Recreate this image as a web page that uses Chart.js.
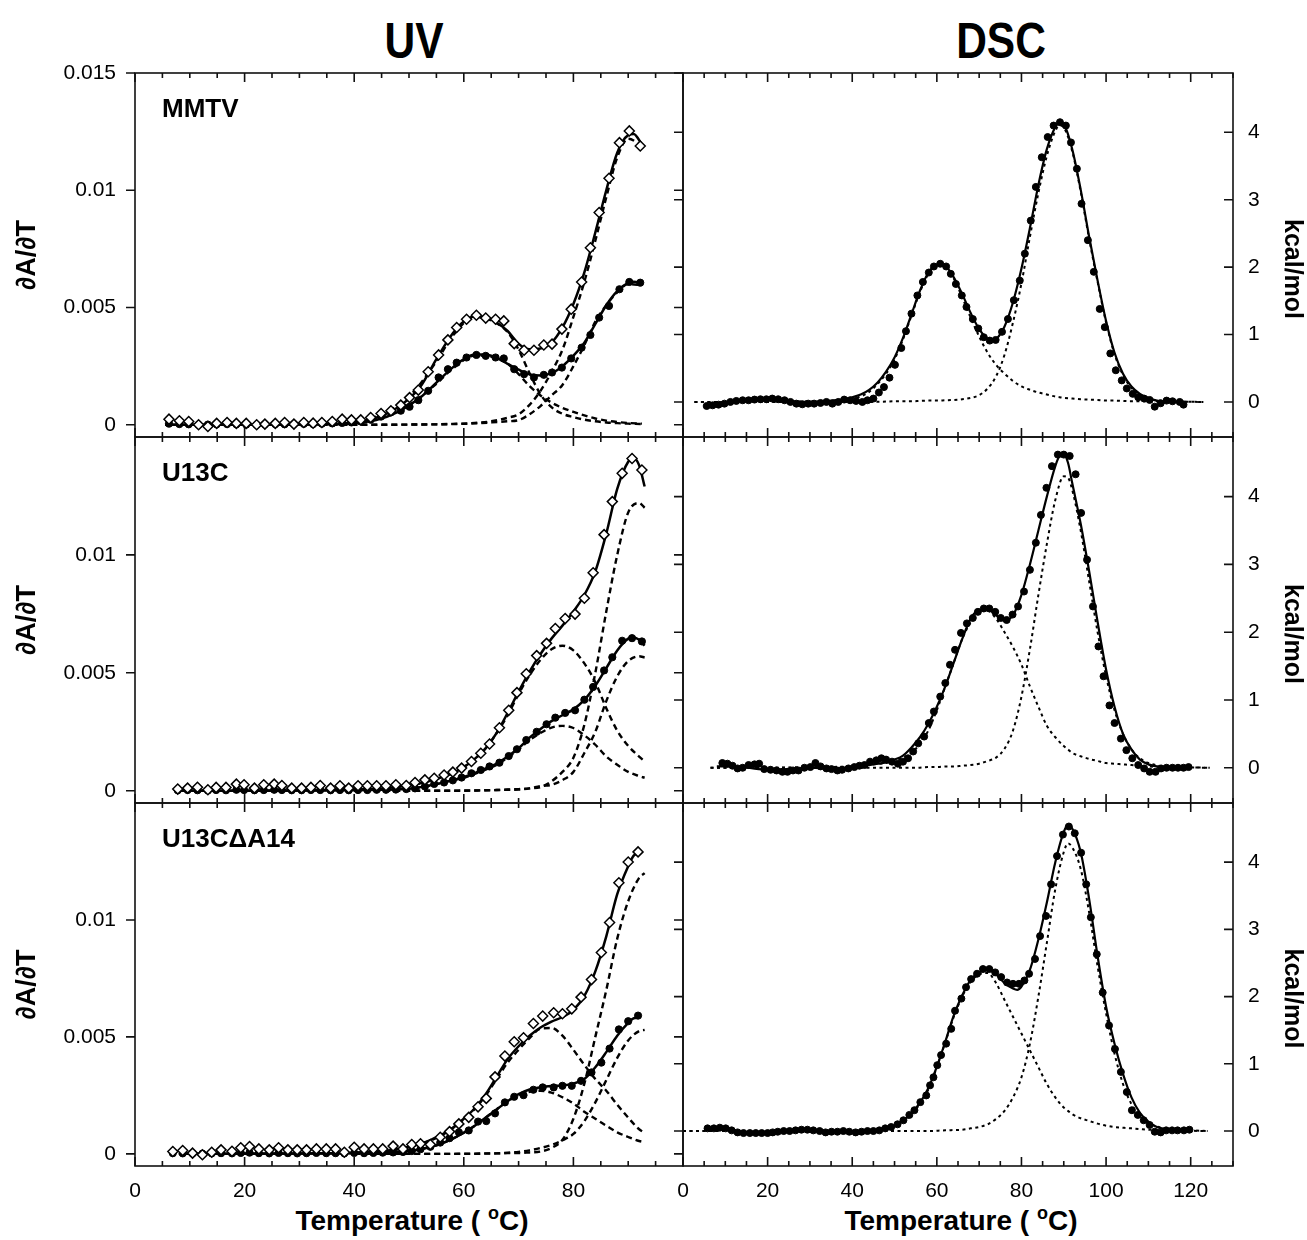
<!DOCTYPE html>
<html>
<head>
<meta charset="utf-8">
<script src="https://cdn.jsdelivr.net/npm/chart.js@4.4.1/dist/chart.umd.min.js"></script>
<style>
  body { margin: 0; background: #fff; }
  #fig { position: relative; width: 1307px; height: 1240px; overflow: hidden;
         font-family: "Liberation Sans", Arial, sans-serif; color: #000; }
  #fig canvas { position: absolute; }
  .head { position: absolute; top: 16px; font-weight: bold; font-size: 50px; line-height: 50px;
          white-space: nowrap; transform: translateX(-50%) scaleX(0.85); }
  .xtitle { position: absolute; top: 1199px; font-weight: bold; font-size: 28px; line-height: 28px;
            white-space: nowrap; transform: translateX(-50%); }
  .deg { font-size: 18px; vertical-align: 11px; }
</style>
</head>
<body>
<div id="fig">
  <div class="head" style="left:414px">UV</div>
  <div class="head" style="left:1001px">DSC</div>
  <div class="xtitle" style="left:412px">Temperature ( <span class="deg">o</span>C)</div>
  <div class="xtitle" style="left:961px">Temperature ( <span class="deg">o</span>C)</div>
</div>
<script>
"use strict";

// ---- axes ----
// UV values are kept in units of 1e-3 (dA/dT); DSC values in kcal/mol
const uvYTicks = [0, 5, 10, 15];
const uvYTickText = ["0", "0.005", "0.01", "0.015"];
const dscYTicks = [0, 1, 2, 3, 4];
const dscYTickText = ["0", "1", "2", "3", "4"];
const uvXTicks = [0, 20, 40, 60, 80];
const dscXTicks = [0, 20, 40, 60, 80, 100, 120];
const panelNames = ["MMTV", "U13C", "U13C\u0394A14"];

// ---- MMTV, UV ----
const mmtvUvT = [6.2, 8.1, 9.8, 11.6, 13.3, 14.9, 16.8, 18.5, 20.3, 22.2, 23.7, 25.6, 27.3, 29.0, 30.8, 32.5, 34.1, 36.0, 37.8, 39.5,
  41.2, 43.0, 44.9, 46.7, 48.5, 50.1, 51.7, 53.5, 55.4, 57.1, 58.7, 60.5, 62.3, 64.0, 65.8, 67.3, 69.2, 71.0, 72.8, 74.6,
  76.1, 77.9, 79.6, 81.5, 83.1, 84.7, 86.5, 88.4, 90.2, 92.2];
const mmtvUvOpen = [0.24, 0.17, 0.14, 0.0, -0.07, 0.06, 0.1, 0.06, 0.06, 0.0, 0.03, 0.06, 0.1, 0.03, 0.1, 0.07, 0.1, 0.14, 0.24, 0.21,
  0.21, 0.31, 0.48, 0.6, 0.84, 1.16, 1.48, 2.26, 2.98, 3.62, 4.15, 4.5, 4.67, 4.55, 4.5, 4.43, 3.46, 3.18, 3.18, 3.4,
  3.44, 4.08, 4.93, 6.09, 7.55, 9.05, 10.51, 12.03, 12.53, 11.89];
const mmtvUvFilled = [0.05, 0.03, 0.02, 0.0, 0.01, 0.02, 0.03, 0.02, 0.01, 0.0, 0.02, 0.03, 0.02, 0.03, 0.04, 0.03, 0.05, 0.06, 0.08, 0.1,
  0.14, 0.22, 0.35, 0.53, 0.6, 0.77, 1.05, 1.45, 2.02, 2.37, 2.65, 2.87, 2.98, 2.94, 2.87, 2.83, 2.37, 2.16, 2.02, 2.13,
  2.23, 2.44, 2.83, 3.29, 3.83, 4.57, 5.07, 5.78, 6.09, 6.06];
const mmtvUvFitT = [5.5, 10, 15, 20, 25, 30, 35, 40, 44, 48, 52, 55, 58, 60, 62, 64, 66, 68, 70, 72, 74, 76, 78, 80, 82, 84, 86, 88, 90, 91, 92.5];
const mmtvUvFitOpen = [0, 0, 0, 0, 0, 0.01, 0.03, 0.1, 0.3, 0.75, 1.6, 2.8, 3.9, 4.4, 4.62, 4.58, 4.35, 4.0, 3.45, 3.22,
  3.25, 3.5, 4.15, 5.15, 6.5, 8.2, 10.0, 11.6, 12.35, 12.4, 11.95];
const mmtvUvFitFilled = [0, 0, 0, 0, 0, 0.01, 0.02, 0.07, 0.2, 0.55, 1.15, 1.8, 2.45, 2.8, 3.0, 3.0, 2.85, 2.6, 2.35, 2.15,
  2.1, 2.2, 2.5, 2.95, 3.5, 4.3, 5.1, 5.7, 6.05, 6.1, 6.0];
const mmtvUvCompT = [34, 40, 45, 50, 55, 58, 62, 65, 68, 70, 72, 74, 76, 78, 80, 82, 84, 86, 88, 90, 92.5];
const mmtvUvOpenLow = [0.03, 0.1, 0.45, 1.2, 2.7, 3.8, 4.6, 4.45, 3.95, 3.2, 2.2, 1.3, 0.75, 0.47, 0.33, 0.22, 0.15, 0.1, 0.07, 0.05, 0.03];
const mmtvUvOpenHigh = [0, 0, 0, 0.01, 0.02, 0.04, 0.08, 0.15, 0.3, 0.45, 0.85, 1.45, 2.25, 3.2, 4.6, 6.1, 7.85, 9.7, 11.4, 12.2, 11.9];
const mmtvUvFilledLow = [0.02, 0.05, 0.3, 0.85, 1.75, 2.4, 2.95, 2.9, 2.6, 2.16, 1.65, 1.25, 0.95, 0.72, 0.55, 0.4, 0.27, 0.18, 0.12, 0.08, 0.05];
const mmtvUvFilledHigh = [0, 0, 0, 0.01, 0.02, 0.03, 0.06, 0.1, 0.15, 0.2, 0.45, 0.8, 1.25, 1.7, 2.5, 3.4, 4.4, 5.1, 5.65, 6.0, 5.95];

// ---- U13C, UV ----
const u13cUvT = [7.8, 9.6, 11.4, 13.3, 14.8, 16.6, 18.5, 19.9, 21.8, 23.5, 25.4, 26.8, 28.6, 30.4, 32.1, 33.8, 35.7, 37.4, 39.0, 40.7,
  42.4, 44.1, 45.8, 47.6, 49.5, 51.1, 52.9, 54.6, 56.4, 58.0, 59.6, 61.4, 63.1, 64.7, 66.5, 68.2, 69.7, 71.4, 73.3, 75.1,
  76.7, 78.5, 80.3, 82.0, 83.6, 85.6, 87.1, 88.9, 90.7, 92.5];
const u13cUvOpen = [0.07, 0.11, 0.15, 0.04, 0.14, 0.14, 0.28, 0.25, 0.11, 0.25, 0.28, 0.22, 0.11, 0.11, 0.14, 0.22, 0.11, 0.21, 0.11, 0.21,
  0.21, 0.21, 0.21, 0.25, 0.22, 0.35, 0.46, 0.53, 0.67, 0.79, 0.96, 1.24, 1.59, 1.98, 2.67, 3.41, 4.16, 4.96, 5.73, 6.25,
  6.88, 7.3, 7.49, 8.16, 9.24, 10.86, 12.26, 13.46, 14.09, 13.6];
const u13cUvFilled = [0.02, 0.03, 0.02, 0.01, 0.03, 0.02, 0.04, 0.03, 0.02, 0.03, 0.04, 0.03, 0.02, 0.02, 0.03, 0.03, 0.02, 0.03, 0.02, 0.03,
  0.03, 0.04, 0.04, 0.05, 0.07, 0.1, 0.18, 0.29, 0.35, 0.44, 0.56, 0.74, 0.88, 1.03, 1.19, 1.47, 1.76, 2.15, 2.5, 2.82,
  3.1, 3.3, 3.41, 3.86, 4.4, 5.1, 5.66, 6.36, 6.47, 6.33];
const u13cUvFitT = [7.5, 15, 25, 35, 45, 50, 55, 58, 60, 62, 64, 66, 68, 70, 72, 74, 76, 78, 80, 82, 84, 86, 88, 90, 91, 92, 93];
const u13cUvFitOpen = [0.0, 0.0, 0.01, 0.03, 0.1, 0.22, 0.5, 0.75, 1.0, 1.35, 1.8, 2.45, 3.3, 4.2, 5.05, 5.8, 6.45, 7.0, 7.6, 8.3,
  9.3, 10.9, 12.8, 13.95, 14.1, 13.8, 12.9];
const u13cUvFitFilled = [0.0, 0.0, 0.0, 0.01, 0.04, 0.08, 0.28, 0.45, 0.58, 0.75, 0.95, 1.15, 1.45, 1.8, 2.25, 2.62, 2.95, 3.2, 3.45, 3.85,
  4.45, 5.2, 5.95, 6.45, 6.5, 6.4, 6.15];
const u13cUvCompT = [40, 45, 50, 55, 58, 60, 62, 64, 66, 68, 70, 72, 74, 76, 78, 80, 82, 84, 86, 88, 90, 92, 93];
const u13cUvOpenLow = [0.05, 0.1, 0.22, 0.5, 0.75, 1.0, 1.35, 1.8, 2.45, 3.2, 4.1, 4.9, 5.55, 6.0, 6.15, 5.95, 5.4, 4.6, 3.5, 2.55, 1.9, 1.45, 1.25];
const u13cUvOpenHigh = [0, 0, 0, 0, 0, 0.01, 0.01, 0.02, 0.03, 0.05, 0.07, 0.1, 0.15, 0.4, 0.8, 1.4, 2.8, 5.0, 7.6, 10.0, 11.8, 12.2, 12.0];
const u13cUvFilledLow = [0.02, 0.05, 0.08, 0.28, 0.45, 0.55, 0.72, 0.9, 1.1, 1.4, 1.75, 2.15, 2.45, 2.68, 2.75, 2.66, 2.35, 1.95, 1.45, 1.1, 0.8, 0.62, 0.55];
const u13cUvFilledHigh = [0, 0, 0, 0, 0, 0, 0.01, 0.02, 0.03, 0.04, 0.05, 0.1, 0.2, 0.25, 0.45, 0.8, 1.6, 2.5, 3.8, 4.85, 5.5, 5.7, 5.65];

// ---- U13CdA14, UV ----
const u13cdUvT = [6.9, 8.7, 10.5, 12.3, 14.0, 15.7, 17.7, 19.3, 20.9, 22.6, 24.5, 26.2, 27.9, 29.6, 31.3, 33.1, 34.9, 36.6, 38.2, 40.0,
  41.8, 43.5, 45.2, 47.1, 48.9, 50.5, 52.1, 53.9, 55.7, 57.4, 59.1, 60.9, 62.6, 64.1, 65.7, 67.5, 69.2, 70.9, 72.7, 74.4,
  76.4, 78.0, 79.7, 81.4, 83.3, 85.1, 86.6, 88.3, 90.0, 91.8];
const u13cdUvOpen = [0.1, 0.14, 0.03, -0.04, 0.07, 0.17, 0.11, 0.26, 0.31, 0.21, 0.17, 0.26, 0.17, 0.17, 0.17, 0.21, 0.21, 0.21, 0.07, 0.28,
  0.21, 0.21, 0.21, 0.33, 0.21, 0.4, 0.43, 0.4, 0.71, 0.95, 1.28, 1.56, 2.01, 2.37, 3.29, 4.18, 4.79, 4.96, 5.57, 5.89,
  6.03, 5.99, 6.2, 6.7, 7.45, 8.61, 9.89, 11.59, 12.48, 12.91];
const u13cdUvFilled = [0.03, 0.02, 0.02, 0.01, 0.02, 0.03, 0.02, 0.04, 0.05, 0.03, 0.02, 0.04, 0.03, 0.02, 0.03, 0.04, 0.03, 0.03, 0.02, 0.04,
  0.03, 0.04, 0.05, 0.06, 0.08, 0.12, 0.2, 0.3, 0.48, 0.67, 0.92, 1.0, 1.38, 1.4, 1.73, 2.2, 2.44, 2.51, 2.74, 2.84,
  2.84, 2.91, 2.91, 3.12, 3.48, 3.9, 4.5, 5.32, 5.67, 5.91];
const u13cdUvFitT = [8, 25, 35, 40, 45, 48, 50, 52, 54, 56, 58, 60, 62, 64, 66, 68, 70, 72, 74, 76, 78, 80, 82, 84, 86, 88, 90, 91, 92];
const u13cdUvFitOpen = [0.0, 0.01, 0.02, 0.05, 0.12, 0.2, 0.3, 0.42, 0.6, 0.82, 1.12, 1.5, 1.95, 2.55, 3.3, 4.05, 4.6, 5.05, 5.4, 5.65,
  5.85, 6.15, 6.75, 7.8, 9.3, 11.1, 12.3, 12.75, 12.85];
const u13cdUvFitFilled = [0.0, 0.0, 0.01, 0.02, 0.05, 0.08, 0.12, 0.2, 0.3, 0.45, 0.65, 0.9, 1.2, 1.55, 1.9, 2.25, 2.55, 2.75, 2.85, 2.9,
  2.92, 3.0, 3.2, 3.7, 4.35, 5.05, 5.6, 5.8, 5.82];
const u13cdUvCompT = [40, 45, 50, 54, 56, 58, 60, 62, 64, 66, 68, 70, 72, 74, 76, 78, 80, 82, 84, 86, 88, 90, 92, 93];
const u13cdUvOpenLow = [0.05, 0.1, 0.3, 0.58, 0.8, 1.1, 1.48, 1.92, 2.5, 3.2, 3.9, 4.45, 4.95, 5.35, 5.38, 5.05, 4.45, 3.8, 3.2, 2.7, 2.1, 1.55, 1.05, 0.9];
const u13cdUvOpenHigh = [0, 0, 0, 0, 0, 0, 0.01, 0.01, 0.02, 0.02, 0.03, 0.03, 0.06, 0.1, 0.25, 0.6, 1.5, 3.0, 5.0, 7.0, 9.2, 10.8, 11.8, 12.0];
const u13cdUvFilledLow = [0.02, 0.05, 0.12, 0.3, 0.45, 0.65, 0.9, 1.2, 1.55, 1.9, 2.25, 2.5, 2.65, 2.7, 2.62, 2.42, 2.15, 1.8, 1.5, 1.2, 0.92, 0.72, 0.55, 0.5];
const u13cdUvFilledHigh = [0, 0, 0, 0, 0, 0, 0, 0, 0.01, 0.02, 0.05, 0.08, 0.15, 0.25, 0.38, 0.58, 0.85, 1.4, 2.2, 3.15, 4.1, 4.85, 5.25, 5.3];

// ---- MMTV, DSC ----
const mmtvDscT = [5.6, 7, 8.4, 9.8, 11.2, 12.6, 14.1, 15.5, 16.9, 18.3, 19.7, 21.1, 22.5, 24, 25.4, 26.8, 28.2, 29.6, 31, 32.5,
  33.9, 35.3, 36.7, 38.1, 39.5, 40.9, 42.4, 43.6, 45.0, 46.3, 47.5, 48.8, 50.1, 51.6, 52.7, 54.0, 55.4, 56.7, 58.1, 59.3,
  60.8, 62.2, 63.3, 64.5, 65.9, 67.0, 68.5, 69.8, 71.1, 72.5, 73.9, 75.4, 76.8, 78.2, 79.6, 80.8, 82.2, 83.4, 84.8, 86.2,
  87.6, 89.1, 90.5, 91.7, 93.1, 94.2, 95.7, 97.1, 98.5, 99.7, 101.0, 102.3, 103.7, 104.9, 106.3, 107.6, 109.0, 110.3, 111.5, 112.9,
  114.3, 115.7, 117.4, 118.3];
const mmtvDsc = [-0.06, -0.05, -0.04, -0.025, 0, 0.015, 0.025, 0.025, 0.035, 0.04, 0.04, 0.05, 0.04, 0.025, 0, -0.025, -0.035, -0.025, -0.025, -0.015,
  0, -0.025, 0, 0.035, 0.025, 0.015, 0, 0.025, 0.05, 0.14, 0.22, 0.36, 0.55, 0.8, 1.05, 1.31, 1.58, 1.78, 1.92, 2.01,
  2.05, 2.01, 1.9, 1.75, 1.58, 1.41, 1.23, 1.09, 0.96, 0.91, 0.92, 1.04, 1.23, 1.51, 1.8, 2.2, 2.69, 3.19, 3.63, 3.93,
  4.1, 4.15, 4.1, 3.85, 3.46, 2.94, 2.4, 1.93, 1.38, 1.11, 0.72, 0.47, 0.32, 0.2, 0.12, 0.07, 0.05, 0.03, -0.07, -0.02,
  0.02, 0.01, 0.0, -0.04];
const mmtvDscFitT = [5.5, 10, 15, 20, 25, 30, 35, 38, 40, 42, 44, 46, 48, 50, 52, 54, 56, 58, 60, 61, 62, 64, 66, 68, 70,
  72, 73, 74, 76, 78, 80, 82, 84, 86, 88, 89, 90, 92, 94, 96, 98, 100, 102, 104, 106, 108, 110, 112, 115, 119];
const mmtvDscFit = [-0.05, -0.02, 0.02, 0.03, 0.01, 0.0, 0.02, 0.04, 0.07, 0.11, 0.18, 0.29, 0.45, 0.66, 0.95, 1.3, 1.65, 1.92, 2.04, 2.05,
  2.02, 1.85, 1.6, 1.32, 1.08, 0.93, 0.9, 0.93, 1.12, 1.48, 1.98, 2.58, 3.22, 3.75, 4.08, 4.15, 4.12, 3.75, 3.15, 2.45,
  1.8, 1.2, 0.73, 0.42, 0.23, 0.12, 0.06, 0.02, 0.0, 0.0];
const mmtvDscCompT = [2.7, 10, 20, 30, 40, 44, 48, 50, 52, 54, 56, 58, 60, 62, 64, 66, 68, 70, 72, 74,
  76, 78, 80, 82, 84, 86, 88, 89, 90, 92, 94, 96, 98, 100, 102, 104, 106, 108, 110, 115, 123];
const mmtvDscLow = [0, 0, 0, 0.01, 0.05, 0.15, 0.42, 0.63, 0.93, 1.28, 1.63, 1.9, 2.02, 2.0, 1.83, 1.55, 1.25, 0.97, 0.73, 0.55,
  0.42, 0.31, 0.23, 0.18, 0.14, 0.11, 0.08, 0.07, 0.06, 0.05, 0.04, 0.035, 0.03, 0.02, 0.02, 0.015, 0.01, 0.01, 0.01, 0.005, 0];
const mmtvDscHigh = [0, 0, 0, 0, 0, 0, 0.005, 0.01, 0.01, 0.01, 0.015, 0.02, 0.02, 0.025, 0.03, 0.04, 0.06, 0.1, 0.2, 0.38,
  0.7, 1.18, 1.76, 2.45, 3.1, 3.65, 4.02, 4.1, 4.07, 3.72, 3.12, 2.42, 1.78, 1.18, 0.71, 0.4, 0.21, 0.11, 0.05, 0.01, 0];

// ---- U13C, DSC ----
const u13cDscT = [9.3, 10.5, 11.7, 12.9, 14.1, 15.5, 16.9, 18.0, 19.2, 20.7, 22.1, 23.5, 24.7, 26.0, 27.3, 28.7, 30.1, 31.3, 32.5, 33.9,
  35.1, 36.5, 37.6, 39.1, 40.5, 41.7, 42.9, 44.2, 45.7, 46.9, 48.0, 49.4, 50.8, 52.0, 53.2, 54.4, 55.6, 57.0, 58.1, 59.3,
  60.8, 62.0, 63.1, 64.3, 65.7, 67.1, 68.5, 69.7, 71.1, 72.4, 73.8, 75.1, 76.5, 77.9, 79.2, 80.6, 82.0, 83.4, 84.6, 85.9,
  87.2, 88.6, 90.0, 91.4, 92.8, 94.1, 95.5, 96.9, 98.2, 99.4, 100.8, 102.0, 103.5, 104.8, 106.2, 107.6, 109.0, 110.3, 111.7, 113.0,
  114.3, 115.7, 117.0, 118.3, 119.5];
const u13cDsc = [0.07, 0.06, 0.03, -0.01, 0, 0.04, 0.05, 0.06, -0.02, -0.03, -0.04, -0.06, -0.06, -0.04, -0.04, 0, 0.01, 0.07, 0.02, -0.01,
  -0.02, -0.04, -0.03, -0.01, 0.01, 0.03, 0.04, 0.09, 0.11, 0.14, 0.12, 0.09, 0.06, 0.09, 0.14, 0.24, 0.36, 0.46, 0.66, 0.83,
  1.05, 1.25, 1.52, 1.74, 1.99, 2.13, 2.21, 2.3, 2.35, 2.35, 2.3, 2.21, 2.18, 2.26, 2.38, 2.6, 2.92, 3.32, 3.73, 4.13,
  4.45, 4.62, 4.62, 4.6, 4.33, 3.76, 3.07, 2.38, 1.79, 1.35, 0.92, 0.66, 0.43, 0.26, 0.14, 0.04, -0.01, -0.06, -0.06, -0.01,
  0, 0, 0, 0, 0.01];
const u13cDscFitT = [8, 10, 15, 20, 25, 30, 35, 40, 45, 48, 50, 52, 54, 56, 58, 60, 62, 64, 66, 68, 70, 72, 74, 76, 78,
  80, 82, 84, 86, 88, 89, 90, 91, 92, 94, 96, 98, 100, 102, 104, 106, 108, 110, 112, 115, 119];
const u13cDscFit = [0.02, 0.02, 0.0, -0.03, -0.02, 0.0, -0.01, 0.01, 0.05, 0.08, 0.12, 0.18, 0.3, 0.45, 0.65, 0.9, 1.2, 1.55, 1.9, 2.2,
  2.33, 2.34, 2.25, 2.17, 2.25, 2.55, 3.0, 3.5, 4.0, 4.45, 4.6, 4.62, 4.5, 4.2, 3.6, 2.9, 2.15, 1.45, 0.9, 0.5,
  0.27, 0.12, 0.05, 0.02, 0.01, 0.01];
const u13cDscCompT = [6.5, 10, 20, 30, 40, 45, 50, 55, 58, 60, 62, 64, 66, 68, 70, 72, 74, 76, 78, 80,
  82, 84, 86, 88, 90, 91, 92, 94, 96, 98, 100, 102, 104, 106, 108, 110, 114, 124.5];
const u13cDscLow = [0, 0, 0, 0.01, 0.02, 0.05, 0.1, 0.28, 0.55, 0.85, 1.2, 1.55, 1.9, 2.15, 2.3, 2.32, 2.2, 2.0, 1.78, 1.52,
  1.2, 0.9, 0.62, 0.45, 0.32, 0.27, 0.22, 0.17, 0.13, 0.1, 0.07, 0.06, 0.05, 0.04, 0.03, 0.02, 0.01, 0];
const u13cDscHigh = [0, 0, 0, 0, 0, 0, 0, 0, 0.01, 0.01, 0.02, 0.02, 0.03, 0.04, 0.06, 0.1, 0.15, 0.28, 0.55, 1.05,
  1.75, 2.55, 3.3, 3.95, 4.3, 4.28, 4.1, 3.5, 2.75, 2.0, 1.35, 0.85, 0.5, 0.27, 0.14, 0.07, 0.02, 0];

// ---- U13CdA14, DSC ----
const u13cdDscT = [5.8, 7.3, 8.7, 10.1, 11.5, 12.9, 14.3, 15.8, 17.2, 18.6, 20.0, 21.2, 22.4, 23.8, 25.2, 26.6, 28.0, 29.4, 30.8, 32.3,
  33.7, 35.1, 36.5, 37.9, 39.3, 40.8, 42.2, 43.6, 45.0, 46.4, 47.8, 49.2, 50.7, 52.1, 53.5, 54.7, 56.1, 57.5, 58.4, 59.2,
  60.1, 61.0, 62.2, 63.4, 64.3, 65.8, 66.9, 68.1, 69.5, 70.9, 72.4, 73.8, 75.2, 76.6, 78.0, 79.4, 80.7, 81.8, 83.2, 84.4,
  85.8, 87.0, 88.4, 89.8, 91.2, 92.6, 94.1, 95.3, 96.4, 97.8, 99.2, 100.7, 102.1, 103.5, 104.9, 106.1, 107.5, 108.9, 110.3, 111.5,
  112.9, 114.2, 115.6, 116.9, 118.4, 119.7];
const u13cdDsc = [0.04, 0.04, 0.05, 0.04, 0.01, -0.02, -0.03, -0.03, -0.03, -0.03, -0.03, -0.02, -0.01, 0, 0, 0.01, 0.02, 0.02, 0.01, 0,
  -0.02, -0.01, -0.01, 0, -0.01, -0.02, -0.01, 0, 0, 0.01, 0.04, 0.06, 0.1, 0.16, 0.24, 0.31, 0.43, 0.53, 0.68, 0.8,
  0.98, 1.13, 1.3, 1.52, 1.79, 1.97, 2.14, 2.26, 2.34, 2.41, 2.41, 2.36, 2.29, 2.21, 2.19, 2.19, 2.24, 2.34, 2.56, 2.9,
  3.2, 3.67, 4.09, 4.41, 4.53, 4.43, 4.14, 3.67, 3.18, 2.63, 2.06, 1.57, 1.22, 0.88, 0.58, 0.31, 0.24, 0.16, 0.09, -0.01,
  -0.02, 0.01, 0.01, 0.01, 0.01, 0.02];
const u13cdDscFitT = [5, 10, 13, 20, 25, 30, 35, 40, 45, 48, 50, 52, 54, 56, 58, 60, 62, 64, 66, 68, 70, 72, 74, 76, 78,
  79, 80, 82, 84, 86, 88, 90, 91, 92, 94, 96, 98, 100, 102, 104, 106, 108, 110, 112, 114, 116, 119];
const u13cdDscFit = [0.03, 0.03, -0.02, -0.03, 0.0, 0.01, -0.01, -0.01, 0.0, 0.04, 0.08, 0.15, 0.27, 0.42, 0.64, 0.96, 1.33, 1.72, 2.02, 2.25,
  2.36, 2.4, 2.33, 2.2, 2.12, 2.1, 2.15, 2.4, 2.85, 3.4, 4.0, 4.45, 4.55, 4.5, 4.15, 3.45, 2.6, 1.85, 1.3, 0.85,
  0.5, 0.27, 0.14, 0.06, 0.03, 0.01, 0.01];
const u13cdDscCompT = [0, 10, 20, 30, 40, 45, 50, 54, 58, 60, 62, 64, 66, 68, 70, 72, 74, 76, 78, 80,
  82, 84, 86, 88, 90, 91, 92, 94, 96, 98, 100, 102, 104, 106, 108, 110, 114, 124];
const u13cdDscLow = [0, 0, 0, 0, 0, 0.02, 0.07, 0.25, 0.62, 0.95, 1.32, 1.7, 2.0, 2.22, 2.33, 2.35, 2.2, 1.95, 1.7, 1.45,
  1.2, 0.95, 0.7, 0.5, 0.35, 0.3, 0.25, 0.19, 0.15, 0.11, 0.08, 0.06, 0.05, 0.04, 0.03, 0.02, 0.01, 0];
const u13cdDscHigh = [0, 0, 0, 0, 0, 0, 0, 0, 0, 0.005, 0.01, 0.015, 0.02, 0.04, 0.06, 0.1, 0.18, 0.3, 0.5, 0.8,
  1.3, 2.0, 2.8, 3.6, 4.15, 4.28, 4.22, 3.9, 3.25, 2.45, 1.75, 1.15, 0.7, 0.4, 0.22, 0.12, 0.04, 0];

// ---- layout (page pixels) ----
const rowTop = [73, 437, 803];
const rowBottom = [437, 803, 1166];
const uvLeft = 135;
const midX = 683;
const dscRight = 1233;
const pageWidth = 1307;

Chart.defaults.font.family = '"Liberation Sans", Arial, sans-serif';
Chart.defaults.color = "#000";

function xy(xs, ys) {
    return xs.map(function (x, i) { return { x: x, y: ys[i] }; });
}

function markers(xs, ys, open, radius) {
    return {
        data: xy(xs, ys),
        showLine: false,
        pointStyle: open ? "rectRot" : "circle",
        pointRadius: radius,
        pointBorderWidth: open ? 1.5 : 1,
        pointBorderColor: "#000",
        pointBackgroundColor: open ? "#fff" : "#000"
    };
}

function curve(xs, ys, width, dash) {
    return {
        data: xy(xs, ys),
        showLine: true,
        pointRadius: 0,
        borderColor: "#000",
        borderWidth: width,
        borderDash: dash || [],
        cubicInterpolationMode: "monotone"
    };
}

function uvSets(t, open, filled, fitT, fitOpen, fitFilled, compT, a1, b1, a2, b2) {
    const dash = [6, 4];
    return [
        markers(t, open, true, 5),
        markers(t, filled, false, 3.6),
        curve(fitT, fitOpen, 2.5),
        curve(fitT, fitFilled, 2.5),
        curve(compT, a1, 2.4, dash),
        curve(compT, b1, 2.4, dash),
        curve(compT, a2, 2.4, dash),
        curve(compT, b2, 2.4, dash)
    ];
}

function dscSets(t, v, fitT, fit, compT, low, high) {
    const dot = [3, 3.5];
    return [
        markers(t, v, false, 3.5),
        curve(fitT, fit, 2.2),
        curve(compT, low, 2, dot),
        curve(compT, high, 2, dot)
    ];
}

// frame, inward x ticks, left-pointing y ticks, panel name and right-hand unit label
const framePlugin = {
    id: "frame",
    afterDraw: function (chart, args, o) {
        const ctx = chart.ctx;
        const a = chart.chartArea;
        const x = chart.scales.x;
        const y = chart.scales.y;
        ctx.save();
        ctx.strokeStyle = "#111";
        ctx.lineWidth = 1.6;
        ctx.strokeRect(a.left, a.top, a.right - a.left, a.bottom - a.top);
        ctx.beginPath();
        for (let t = 0; t <= o.xMax; t += 5) {
            const px = x.getPixelForValue(t);
            const len = t % 20 === 0 ? 9 : 5;
            ctx.moveTo(px, a.top);
            ctx.lineTo(px, a.top + len);
            ctx.moveTo(px, a.bottom);
            ctx.lineTo(px, a.bottom - len);
        }
        o.yTicks.forEach(function (v) {
            const py = y.getPixelForValue(v);
            ctx.moveTo(a.left, py);
            ctx.lineTo(a.left - 9, py);
            ctx.moveTo(a.right, py);
            ctx.lineTo(a.right - 9, py);
        });
        ctx.stroke();
        ctx.fillStyle = "#000";
        if (o.name) {
            ctx.font = 'bold 26px "Liberation Sans", Arial, sans-serif';
            ctx.textBaseline = "alphabetic";
            ctx.fillText(o.name, a.left + 27, a.top + 44);
        }
        if (o.unit) {
            ctx.translate(chart.width - 15, (a.top + a.bottom) / 2 + 14);
            ctx.rotate(Math.PI / 2);
            ctx.font = 'bold 25px "Liberation Sans", Arial, sans-serif';
            ctx.textAlign = "center";
            ctx.textBaseline = "middle";
            ctx.fillText(o.unit, 0, 0);
        }
        ctx.restore();
    }
};

function zeroPad(s) {
    s.paddingTop = 0;
    s.paddingBottom = 0;
    s.paddingLeft = 0;
    s.paddingRight = 0;
}

function makePanel(kind, row, datasets) {
    const isUV = kind === "uv";
    const bottomRow = row === 2;
    const top = rowTop[row];
    const h = rowBottom[row] - top;
    const left = isUV ? 0 : midX - 12;
    const width = isUV ? midX + 9 : pageWidth - left;
    const extra = bottomRow ? 56 : 14;

    const canvas = document.createElement("canvas");
    canvas.width = width;
    canvas.height = h + 14 + extra;
    canvas.style.left = left + "px";
    canvas.style.top = (top - 14) + "px";
    document.getElementById("fig").appendChild(canvas);

    let yVals = isUV ? uvYTicks : dscYTicks;
    let yText = isUV ? uvYTickText : dscYTickText;
    if (isUV && row > 0) {
        yVals = yVals.slice(0, 3);
        yText = yText.slice(0, 3);
    }
    const xVals = isUV ? uvXTicks : dscXTicks;

    new Chart(canvas, {
        type: "scatter",
        data: { datasets: datasets },
        options: {
            responsive: false,
            animation: false,
            events: [],
            layout: {
                padding: { left: isUV ? 0 : 12, right: isUV ? 9 : 0, top: 14, bottom: bottomRow ? 6 : 14 }
            },
            plugins: {
                legend: { display: false },
                tooltip: { enabled: false },
                frame: {
                    xMax: isUV ? 100 : 130,
                    yTicks: yVals,
                    name: isUV ? panelNames[row] : "",
                    unit: isUV ? "" : "kcal/mol"
                }
            },
            scales: {
                x: {
                    type: "linear",
                    position: "bottom",
                    display: bottomRow,
                    min: 0,
                    max: isUV ? 100 : 130,
                    grid: { display: false, drawTicks: false },
                    border: { display: false },
                    ticks: {
                        padding: 13,
                        font: { size: 21 },
                        color: "#000",
                        maxRotation: 0,
                        autoSkip: false,
                        callback: function (v) { return String(v); }
                    },
                    afterBuildTicks: function (s) {
                        s.ticks = xVals.map(function (v) { return { value: v }; });
                    },
                    afterFit: function (s) {
                        if (bottomRow) s.height = 50;
                        zeroPad(s);
                    }
                },
                y: {
                    type: "linear",
                    position: isUV ? "left" : "right",
                    min: -0.52,
                    max: isUV ? 15 : 4.88,
                    grid: { display: false, drawTicks: false },
                    border: { display: false },
                    ticks: {
                        padding: isUV ? 19 : 15,
                        font: { size: 21 },
                        color: "#000",
                        autoSkip: false,
                        callback: function (v, i) { return yText[i]; }
                    },
                    title: {
                        display: isUV,
                        text: "\u2202A/\u2202T",
                        font: { size: 27, weight: "bold" },
                        color: "#000",
                        padding: { top: 11, bottom: 0 }
                    },
                    afterBuildTicks: function (s) {
                        s.ticks = yVals.map(function (v) { return { value: v }; });
                    },
                    afterFit: function (s) {
                        s.width = isUV ? uvLeft : pageWidth - dscRight;
                        zeroPad(s);
                    }
                }
            }
        },
        plugins: [framePlugin]
    });
}

makePanel("uv", 0, uvSets(mmtvUvT, mmtvUvOpen, mmtvUvFilled, mmtvUvFitT, mmtvUvFitOpen, mmtvUvFitFilled,
    mmtvUvCompT, mmtvUvOpenLow, mmtvUvOpenHigh, mmtvUvFilledLow, mmtvUvFilledHigh));
makePanel("uv", 1, uvSets(u13cUvT, u13cUvOpen, u13cUvFilled, u13cUvFitT, u13cUvFitOpen, u13cUvFitFilled,
    u13cUvCompT, u13cUvOpenLow, u13cUvOpenHigh, u13cUvFilledLow, u13cUvFilledHigh));
makePanel("uv", 2, uvSets(u13cdUvT, u13cdUvOpen, u13cdUvFilled, u13cdUvFitT, u13cdUvFitOpen, u13cdUvFitFilled,
    u13cdUvCompT, u13cdUvOpenLow, u13cdUvOpenHigh, u13cdUvFilledLow, u13cdUvFilledHigh));
makePanel("dsc", 0, dscSets(mmtvDscT, mmtvDsc, mmtvDscFitT, mmtvDscFit, mmtvDscCompT, mmtvDscLow, mmtvDscHigh));
makePanel("dsc", 1, dscSets(u13cDscT, u13cDsc, u13cDscFitT, u13cDscFit, u13cDscCompT, u13cDscLow, u13cDscHigh));
makePanel("dsc", 2, dscSets(u13cdDscT, u13cdDsc, u13cdDscFitT, u13cdDscFit, u13cdDscCompT, u13cdDscLow, u13cdDscHigh));
</script>
</body>
</html>
